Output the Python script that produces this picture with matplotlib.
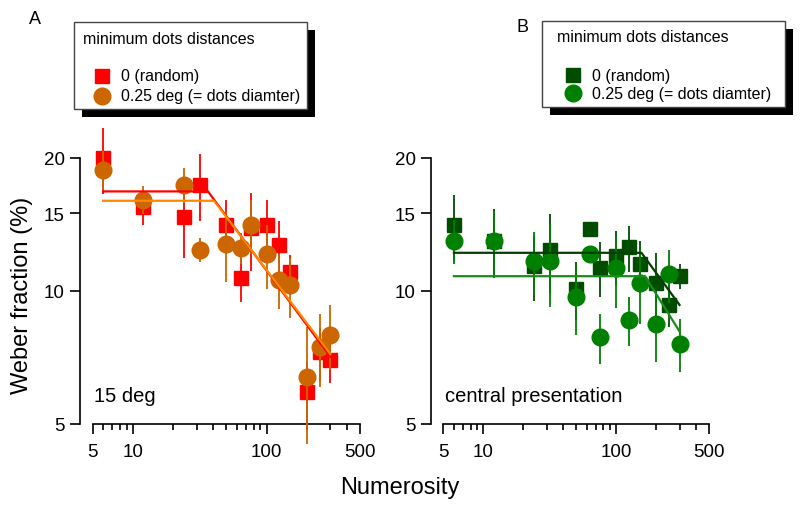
import matplotlib
matplotlib.use("Agg")
import matplotlib.pyplot as plt
from matplotlib.lines import Line2D
from matplotlib.patches import Rectangle
from matplotlib.ticker import FixedLocator, FixedFormatter, NullFormatter

plt.rcParams['font.family'] = ['Liberation Sans', 'DejaVu Sans']

# numerosities
num = [6, 12, 24, 32, 50, 64, 76, 100, 125, 150, 200, 250, 300]

# panel A: 15 deg
red_a = [20.0, 15.5, 14.7, 17.4, 14.1, 10.7, 13.9, 14.1, 12.7, 11.05, 5.9, 7.26, 6.99]
red_a_err = [3.4, 1.4, 2.8, 3.0, 2.0, 1.25, 2.8, 2.0, 1.7, 1.0, 1.0, 1.0, 0.8]
orange_a = [18.8, 16.1, 17.4, 12.4, 12.8, 12.5, 14.1, 12.1, 10.6, 10.3, 6.4, 7.45, 7.96]
orange_a_err = [1.9, 1.2, 1.6, 0.75, 2.3, 1.0, 2.0, 2.0, 1.5, 1.6, 1.9, 1.4, 1.35]

# panel B: central presentation
dark_b = [14.1, 13.0, 11.4, 12.4, 10.1, 13.8, 11.3, 12.0, 12.55, 11.5, 10.4, 9.3, 10.8]
dark_b_err = [2.4, 2.3, 1.9, 2.5, 1.5, 0.4, 1.6, 1.7, 1.5, 1.5, 1.8, 1.0, 0.7]
green_b = [13.0, 13.0, 11.7, 11.7, 9.7, 12.1, 7.85, 11.25, 8.6, 10.4, 8.4, 10.9, 7.6]
green_b_err = [1.5, 2.2, 1.9, 2.5, 1.75, 0.5, 1.0, 2.1, 1.1, 2.0, 1.5, 1.5, 1.05]

# bilinear fits (start, break, end)
fit_red_x, fit_red_y = [6, 36.5, 300], [16.8, 16.8, 7.1]
fit_orange_x, fit_orange_y = [6, 40.5, 300], [16.0, 16.0, 7.2]
fit_dark_x, fit_dark_y = [6, 155, 300], [12.2, 12.2, 9.3]
fit_green_x, fit_green_y = [6, 165, 300], [10.8, 10.8, 8.1]

legend_title = "minimum dots distances"
legend_labels = ["0 (random)", "0.25 deg (= dots diamter)"]

W, H = 800, 506
fig = plt.figure(figsize=(W / 100, H / 100), dpi=100)


def px(x, y):
    return x / W, 1 - y / H


def style_axes(ax):
    ax.set_xscale('log')
    ax.set_yscale('log')
    ax.set_xlim(4.03, 500)
    ax.set_ylim(5, 24.5)
    ax.spines['top'].set_visible(False)
    ax.spines['right'].set_visible(False)
    ax.spines['left'].set_bounds(5, 20)
    ax.spines['bottom'].set_bounds(5, 500)
    for s in ('left', 'bottom'):
        ax.spines[s].set_linewidth(1.2)
    ax.xaxis.set_major_locator(FixedLocator([5, 10, 100, 500]))
    ax.xaxis.set_major_formatter(FixedFormatter(['5', '10', '100', '500']))
    ax.xaxis.set_minor_locator(FixedLocator([6, 7, 8, 9, 20, 30, 40, 50, 60, 70, 80, 90, 200, 300, 400]))
    ax.xaxis.set_minor_formatter(NullFormatter())
    ax.yaxis.set_major_locator(FixedLocator([5, 10, 15, 20]))
    ax.yaxis.set_major_formatter(FixedFormatter(['5', '10', '15', '20']))
    ax.yaxis.set_minor_locator(FixedLocator([]))
    ax.tick_params(which='major', direction='out', length=7, width=1.2, labelsize=13.5, pad=4)
    ax.tick_params(axis='x', which='major', pad=6.5)
    ax.tick_params(which='minor', direction='out', length=4, width=1.2)
    ax.patch.set_visible(False)


def draw_legend(box, title_xy, mark_x, rows_y, text_x, colors, markers, sizes):
    x0, y0, x1, y1 = box
    fig.patches.append(Rectangle(px(x0 + 8, y1 + 8), (x1 - x0) / W, (y1 - y0) / H,
                                 transform=fig.transFigure, facecolor='black', edgecolor='none', zorder=1))
    fig.patches.append(Rectangle(px(x0, y1), (x1 - x0) / W, (y1 - y0) / H,
                                 transform=fig.transFigure, facecolor='white', edgecolor='#444444',
                                 linewidth=1.0, zorder=2))
    fig.text(*px(*title_xy), legend_title, fontsize=11.5, ha='left', va='center', zorder=3)
    for yy, c, m, s, lab in zip(rows_y, colors, markers, sizes, legend_labels):
        fig.add_artist(Line2D([mark_x / W], [1 - yy / H], transform=fig.transFigure, marker=m,
                              markersize=s, color=c, mec=c, linestyle='none', zorder=3))
        fig.text(*px(text_x, yy), lab, fontsize=11.5, ha='left', va='center', zorder=3)


# ---- panel A
axA = fig.add_axes([80 / W, (H - 425) / H, 280 / W, 305 / H])
style_axes(axA)
axA.errorbar(num, red_a, yerr=red_a_err, fmt='s', color='#ff0000', ms=10.5, mec='#ff0000',
             elinewidth=1.3, capsize=0, clip_on=False, zorder=3)
axA.errorbar(num, orange_a, yerr=orange_a_err, fmt='o', color='#cc6600', ms=12, mec='#cc6600',
             elinewidth=1.3, capsize=0, clip_on=False, zorder=4)
axA.plot(fit_red_x, fit_red_y, color='#ff0000', lw=1.6, zorder=5)
axA.plot(fit_orange_x, fit_orange_y, color='#ff8800', lw=1.6, zorder=6)
axA.text(5.1, 5.8, "15 deg", fontsize=14.5, ha='left', va='center')

# ---- panel B
axB = fig.add_axes([431 / W, (H - 425) / H, 278 / W, 305 / H])
style_axes(axB)
axB.errorbar(num, dark_b, yerr=dark_b_err, fmt='s', color='#004d00', ms=10.5, mec='#004d00',
             elinewidth=1.3, capsize=0, clip_on=False, zorder=3)
axB.errorbar(num, green_b, yerr=green_b_err, fmt='o', color='#008000', ms=12, mec='#008000',
             elinewidth=1.3, capsize=0, clip_on=False, zorder=4)
axB.plot(fit_dark_x, fit_dark_y, color='#053d05', lw=1.6, zorder=5)
axB.plot(fit_green_x, fit_green_y, color='#1a8a1a', lw=1.6, zorder=6)
axB.text(5.1, 5.8, "central presentation", fontsize=14.5, ha='left', va='center')

# axis labels
fig.text(0.5, 1 - 488 / H, "Numerosity", fontsize=17, ha='center', va='center')
fig.text(22 / W, 1 - 295 / H, "Weber fraction (%)", fontsize=17, rotation=90, ha='center', va='center')

# panel letters
fig.text(*px(35, 19), "A", fontsize=13, ha='center', va='center')
fig.text(*px(522, 27), "B", fontsize=13, ha='center', va='center')

# legends
draw_legend((74, 23, 307, 110), (83, 39), 102, (77, 97), 121,
            ['#ff0000', '#cc6600'], ['s', 'o'], [10, 12])
draw_legend((542, 22, 785, 108), (557, 37), 573, (76, 94), 592,
            ['#004d00', '#008000'], ['s', 'o'], [10, 12])

fig.savefig("out.png", dpi=100)
